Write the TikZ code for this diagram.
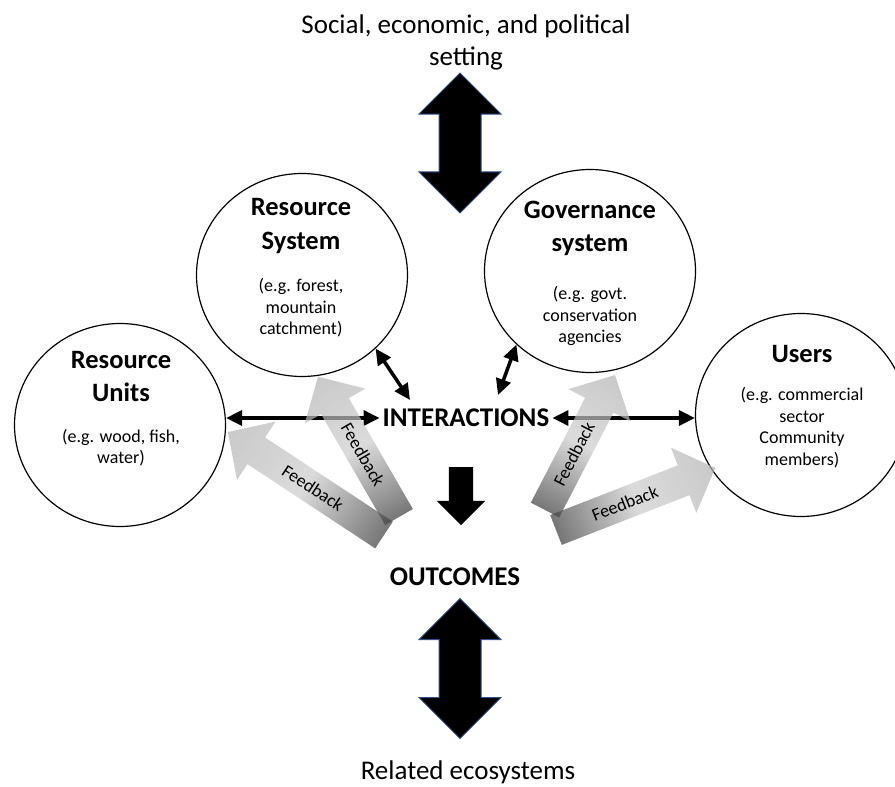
\documentclass[tikz,border=0pt]{standalone}
\usepackage{fontspec}
\setmainfont{Carlito}
\usepackage{tikz}
\usetikzlibrary{shapes.geometric}
\usetikzlibrary{shapes.arrows}
\usetikzlibrary{arrows.meta}
\definecolor{fbdark}{gray}{0.24}
\definecolor{fblight}{gray}{0.80}
\definecolor{fbhead}{gray}{0.70}
\definecolor{arrowline}{HTML}{2F528F}
\tikzset{x=1pt, y=-1pt,
         sys/.style={ % the four circles
           ellipse, draw, line width=1.2pt,
           minimum width=211pt, minimum height=203pt, inner sep=0pt},
         systitle/.style={font=\fontsize{26.5}{33.5}\selectfont\bfseries, align=center, inner sep=0pt},
         sysnote/.style={font=\fontsize{18}{21.5}\selectfont, align=center, inner sep=0pt},
         outer/.style={font=\fontsize{27}{32}\selectfont, align=center, inner sep=0pt},
         core/.style={font=\fontsize{27}{32}\selectfont\bfseries, inner sep=3pt},
         link/.style={{Triangle[length=16pt,width=15pt]}-{Triangle[length=16pt,width=15pt]}, line width=3.5pt},
         bigarrow/.style={ % black double block arrows
           double arrow, draw=arrowline, line width=1pt, fill=black, rotate=90,
           minimum height=140pt, minimum width=81pt, double arrow head extend=20pt,
           inner xsep=0pt, inner ysep=20.5pt},
         fback/.style={fill opacity=0.7, left color=fbdark, right color=fbhead, middle color=fblight},
         fbtext/.style={font=\fontsize{18}{20}\selectfont, inner sep=0pt}}

\begin{document}
\begin{tikzpicture}
  \useasboundingbox (0,0) rectangle (895,787);

  % setting and related ecosystems
  \node[outer] (setting) at (466,42) {Social, economic, and political\\setting};
  \node[bigarrow] (setArr) at (460,143) {};
  \node[outer] (related) at (468,772) {Related ecosystems};
  \node[bigarrow] (ecoArr) at (460,668.5) {};

  % the four subsystems
  \node[sys] (rs) at (302,275) {};
  \node[systitle] (rsTitle) at (301,226) {Resource\\System};
  \node[sysnote] (rsNote) at (301,308) {(e.g. forest,\\mountain\\catchment)};

  \node[sys] (gov) at (590,271) {};
  \node[systitle] (govTitle) at (590,228.5) {Governance\\system};
  \node[sysnote] (govNote) at (590,316) {(e.g. govt.\\conservation\\agencies};

  \node[sys] (ru) at (120,425) {};
  \node[systitle] (ruTitle) at (121,376.5) {Resource\\Units};
  \node[sysnote] (ruNote) at (121,447.5) {(e.g. wood, fish,\\water)};

  \node[sys] (users) at (801,415) {};
  \node[systitle] (usersTitle) at (802,354) {Users};
  \node[sysnote] (usersNote) at (802,427.5) {(e.g. commercial\\sector\\Community\\members)};

  % interactions and outcomes
  \node[core] (inter) at (466,418) {INTERACTIONS};
  \node[core] (outcomes) at (455,577) {OUTCOMES};
  \node[single arrow, fill=black, rotate=-90, minimum height=58pt, minimum width=48pt,
        single arrow head extend=12pt, inner xsep=0pt, inner ysep=12pt] (down) at (461,490) {};

  \coordinate (rsIn) at (410,400);
  \coordinate (govIn) at (498,395);
  \draw[link] (inter.west -| ru.east) -- (inter.west);
  \draw[link] (inter.east) -- (inter.east -| users.west);
  \draw[link] (rs.-45) -- (rsIn);
  \draw[link] (gov.-135) -- (govIn);

  % feedback arrows
  \begin{scope}[transform canvas={shift={(399,517)}, rotate=120}]
    \path[fback] (0,-16) -- (128,-16) -- (128,-35) -- (162,0) -- (128,35) -- (128,16) -- (0,16) -- cycle;
    \node[fbtext, rotate=180] (fbRs) at (72,0) {Feedback};
  \end{scope}
  \begin{scope}[transform canvas={shift={(384,535)}, rotate=146.6}]
    \path[fback] (0,-16) -- (153,-16) -- (153,-35) -- (187,0) -- (153,35) -- (153,16) -- (0,16) -- cycle;
    \node[fbtext, rotate=180] (fbRu) at (85,0) {Feedback};
  \end{scope}
  \begin{scope}[transform canvas={shift={(545,510)}, rotate=62.6}]
    \path[fback] (0,-16) -- (118,-16) -- (118,-35) -- (152,0) -- (118,35) -- (118,16) -- (0,16) -- cycle;
    \node[fbtext] (fbGov) at (63,0) {Feedback};
  \end{scope}
  \begin{scope}[transform canvas={shift={(556,530)}, rotate=21.3}]
    \path[fback] (0,-16) -- (137,-16) -- (137,-35) -- (171,0) -- (137,35) -- (137,16) -- (0,16) -- cycle;
    \node[fbtext] (fbUsers) at (74,0) {Feedback};
  \end{scope}
\end{tikzpicture}
\end{document}
